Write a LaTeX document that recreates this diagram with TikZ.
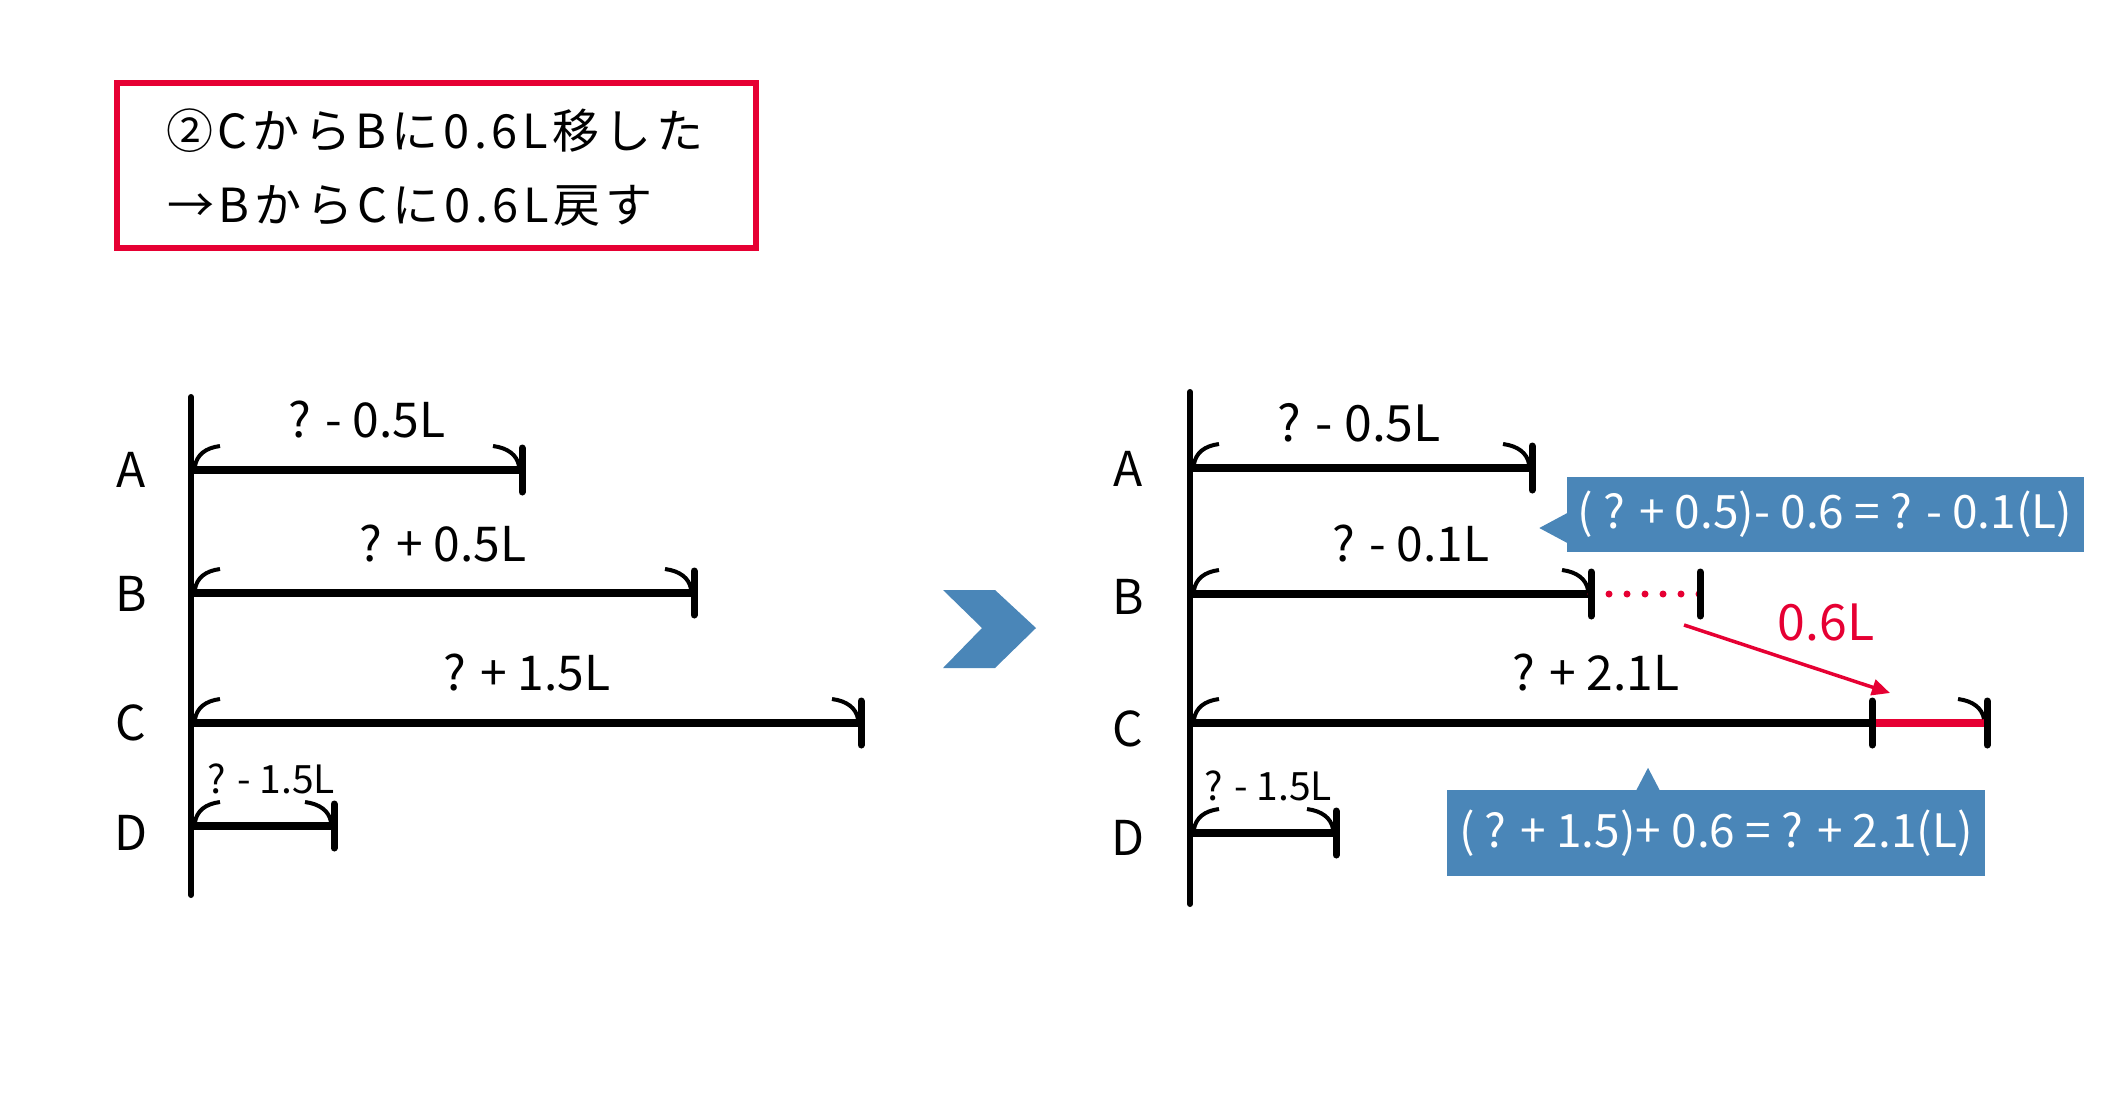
\documentclass[tikz,border=0pt]{standalone}
\usepackage{fontspec}
\setmainfont{Noto Sans CJK JP}
\usetikzlibrary{arrows.meta}
\definecolor{markRed}{RGB}{230,0,51}
\definecolor{markBlue}{RGB}{74,134,184}

\begin{document}
\begin{tikzpicture}
[x=1pt,y=-1pt,
  axisDecorate/.style={line width=6pt,line cap=round},%
  barDecorate/.style={line width=7.5pt},%
  tickDecorate/.style={line width=7pt,line cap=round},%
  arcDecorate/.style={line width=4pt},%
  textDecorate/.style={inner sep=0pt,anchor=base,font=\fontsize{48}{58}\selectfont},%
  smallDecorate/.style={textDecorate,font=\fontsize{39}{47}\selectfont},%
  titleDecorate/.style={inner sep=0pt,anchor=base west,font=\fontsize{47}{56}\selectfont\addfontfeatures{LetterSpace=10}},%
  boxDecorate/.style={fill=markBlue,text=white,inner sep=0pt,font=\fontsize{46}{56}\selectfont},%
  arrowDecorate/.style={-{Triangle[length=18pt,width=16pt]},line width=3.5pt,markRed}]
\useasboundingbox (0,0) rectangle (2117,1103);
%% title
\draw[markRed,line width=6pt] (117,83) rectangle (756,248);
\node[titleDecorate] (title1) at (166,148) {②CからBに0.6L移した};
\node[titleDecorate] (title2) at (167,222) {→BからCに0.6L戻す};
%% left: before
\coordinate (Ltop) at (191,397);
\coordinate (Lbot) at (191,895);
\draw[axisDecorate] (Ltop) -- (Lbot);
\foreach \rowname/\y/\xe in {A/470/522, B/593/694, C/723/861, D/826/334}
{
  \coordinate (L\rowname s) at (191,\y);
  \coordinate (L\rowname e) at (\xe,\y);
  \draw[barDecorate] (L\rowname s) -- (L\rowname e);
  \draw[tickDecorate] ([yshift=22pt]L\rowname e) -- ([yshift=-22pt]L\rowname e);
  \draw[arcDecorate] ([shift={(4,-4)}]L\rowname s) .. controls ([shift={(6,-15)}]L\rowname s) and ([shift={(14,-22)}]L\rowname s) .. ([shift={(29,-24)}]L\rowname s);
  \draw[arcDecorate] ([shift={(-3,-4)}]L\rowname e) .. controls ([shift={(-5,-15)}]L\rowname e) and ([shift={(-14,-22)}]L\rowname e) .. ([shift={(-29,-24)}]L\rowname e);
}
\foreach \rowname/\y in {A/487, B/611, C/740, D/850}
  \node[textDecorate] (Lname\rowname) at (131,\y) {\rowname};
\node[textDecorate] (LlabA) at (367,437) {? - 0.5L};
\node[textDecorate] (LlabB) at (443,561) {? + 0.5L};
\node[textDecorate] (LlabC) at (527,690) {? + 1.5L};
\node[smallDecorate] (LlabD) at (271,793) {? - 1.5L};
%% chevron
\fill[markBlue] (943,590) -- (995,590) -- (1036,628) -- (995,668) -- (943,668) -- (982,628) -- cycle;
%% right: after
\coordinate (Rtop) at (1190,392);
\coordinate (Rbot) at (1190,904);
\draw[axisDecorate] (Rtop) -- (Rbot);
\coordinate (RBx) at (1700,594);
\coordinate (RCx) at (1987,723);
\foreach \rowname/\y/\xe in {A/468/1532, B/594/1591, C/723/1872, D/833/1336}
{
  \coordinate (R\rowname s) at (1190,\y);
  \coordinate (R\rowname e) at (\xe,\y);
  \draw[barDecorate] (R\rowname s) -- (R\rowname e);
}
\draw[markRed,line width=7pt,line cap=round,dash pattern=on 0pt off 18pt] (RBe) -- (RBx);
\draw[markRed,barDecorate] (RCe) -- (RCx);
\foreach \tip in {RAe, RBe, RBx, RCe, RCx, RDe}
  \draw[tickDecorate] ([yshift=22pt]\tip) -- ([yshift=-22pt]\tip);
\foreach \tip in {RAs, RBs, RCs, RDs}
  \draw[arcDecorate] ([shift={(4,-4)}]\tip) .. controls ([shift={(6,-15)}]\tip) and ([shift={(14,-22)}]\tip) .. ([shift={(29,-24)}]\tip);
\foreach \tip in {RAe, RBe, RCx, RDe}
  \draw[arcDecorate] ([shift={(-3,-4)}]\tip) .. controls ([shift={(-5,-15)}]\tip) and ([shift={(-14,-22)}]\tip) .. ([shift={(-29,-24)}]\tip);
\foreach \rowname/\y in {A/486, B/614, C/746, D/855}
  \node[textDecorate] (Rname\rowname) at (1128,\y) {\rowname};
\node[textDecorate,font=\fontsize{50}{60}\selectfont] (RlabA) at (1359,441) {? - 0.5L};
\node[textDecorate] (RlabB) at (1411,561) {? - 0.1L};
\node[textDecorate] (RlabC) at (1596,690) {? + 2.1L};
\node[smallDecorate] (RlabD) at (1268,800) {? - 1.5L};
%% moved part
\node[textDecorate,text=markRed,font=\fontsize{50}{60}\selectfont] (moved) at (1826,640) {0.6L};
\coordinate (mvS) at (1684,625);
\coordinate (mvE) at (1890,693);
\draw[arrowDecorate] (mvS) -- (mvE);
%% callouts
\node[boxDecorate,minimum width=517pt,minimum height=75pt] (call1) at (1825,514) {( ? + 0.5)- 0.6 = ? - 0.1(L)};
\fill[markBlue] ([shift={(1,-1)}]call1.west) -- ([shift={(-27,14)}]call1.west) -- ([shift={(1,29)}]call1.west) -- cycle;
\node[boxDecorate,minimum width=538pt,minimum height=86pt] (call2) at (1716,833) {( ? + 1.5)+ 0.6 = ? + 2.1(L)};
\fill[markBlue] ([shift={(-80,1)}]call2.north) -- ([shift={(-68,-22)}]call2.north) -- ([shift={(-56,1)}]call2.north) -- cycle;
\end{tikzpicture}
\end{document}
